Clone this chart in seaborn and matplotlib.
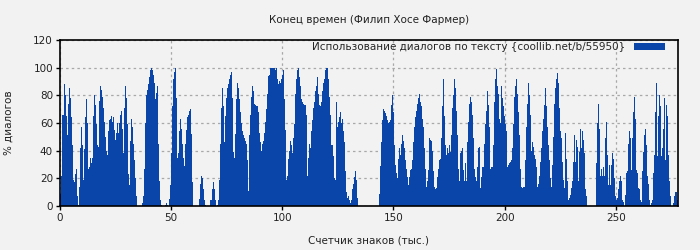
import numpy as np
import pandas as pd
import matplotlib
matplotlib.use("Agg")
import matplotlib.pyplot as plt
import seaborn as sns
from matplotlib.patches import Patch

title = "Конец времен (Филип Хосе Фармер)"
xlabel = "Счетчик знаков (тыс.)"
ylabel = "% диалогов"
legend_label = "Использование диалогов по тексту {coollib.net/b/55950}"
x_ticks = [0, 50, 100, 150, 200, 250]
y_ticks = [0, 20, 40, 60, 80, 100, 120]
x_max = 278

seg1 = [9, 22, 66, 66, 88, 80, 65, 51, 74, 85,
        78, 64, 44, 19, 17, 23, 27, 7, 1, 14,
        42, 57, 44, 19, 41, 64, 77, 60, 27, 28,
        35, 31, 35, 65, 80, 73, 59, 44, 43, 76,
        87, 84, 79, 71, 61, 50, 40, 37, 54, 62,
        63, 65, 61, 64, 55, 48, 53, 60, 53, 60,
        66, 69, 56, 38, 71, 87, 78, 59, 23, 15,
        47, 63, 57, 45, 33, 20, 7, 0, 0, 0,
        0, 0, 2, 7, 27, 60, 80, 84, 88, 93,
        98, 100, 98, 95, 89, 77, 82, 87, 45, 18,
        4, 1, 0, 0, 0]
seg2 = [1, 2, 1, 0, 5, 15, 38, 72, 92, 97,
        100, 78, 35, 38, 54, 63, 56, 45, 35, 29,
        45, 55, 64, 66, 69, 70, 52, 17, 0, 0,
        0, 0, 0, 0, 5, 16, 22, 20, 12, 4,
        1, 0, 0, 0, 0, 4, 4, 12, 17, 12,
        4, 0, 1, 4, 19, 45, 71, 85, 72, 46,
        65, 78, 85, 88, 92, 95, 97, 78, 39, 35,
        52, 77, 89, 85, 77, 68, 60, 54, 51, 49,
        47, 45, 33, 11, 51, 66, 79, 87, 83, 74,
        73, 72, 72, 68, 53, 46, 40, 45, 47, 53,
        61, 70, 81, 94, 95]
seg3 = [100, 100, 100, 100, 100, 98, 100, 92, 88, 90,
        89, 92, 95, 98, 77, 55, 19, 22, 34, 40,
        47, 44, 38, 49, 59, 81, 92, 98, 100, 93,
        87, 77, 75, 74, 73, 73, 66, 22, 35, 45,
        42, 54, 62, 71, 75, 83, 87, 93, 81, 73,
        72, 75, 83, 89, 92, 98, 100, 100, 92, 79,
        66, 44, 44, 36, 20, 19, 75, 57, 61, 64,
        68, 60, 63, 54, 46, 25, 10, 6, 7, 4,
        2, 4, 12, 16, 21, 25, 19, 6, 0, 0,
        0, 0, 0, 0, 0, 0, 0, 0, 0, 0,
        0, 0, 0, 0, 0]
seg4 = [0, 0, 0, 0, 9, 29, 46, 62, 70, 69,
        67, 65, 62, 60, 61, 62, 73, 80, 68, 44,
        30, 24, 20, 34, 42, 37, 45, 51, 47, 42,
        33, 27, 21, 15, 21, 26, 27, 33, 46, 57,
        64, 69, 74, 78, 81, 75, 72, 63, 57, 42,
        27, 14, 18, 26, 49, 48, 47, 40, 25, 14,
        12, 13, 21, 27, 33, 34, 49, 72, 92, 65,
        44, 37, 42, 38, 44, 39, 51, 71, 80, 92,
        85, 69, 51, 27, 18, 38, 40, 42, 26, 18,
        31, 18, 46, 61, 74, 79, 75, 66, 49, 27,
        21, 18, 28, 42, 43]
seg5 = [13, 21, 28, 28, 45, 59, 69, 83, 73, 57,
        27, 28, 28, 44, 75, 92, 99, 87, 81, 63,
        60, 87, 78, 72, 65, 59, 54, 28, 30, 31,
        32, 33, 42, 59, 79, 87, 92, 81, 68, 51,
        27, 14, 13, 14, 14, 33, 57, 74, 89, 80,
        66, 40, 46, 43, 37, 34, 28, 14, 16, 22,
        32, 42, 54, 63, 73, 85, 72, 57, 44, 33,
        20, 14, 30, 50, 74, 85, 92, 96, 89, 71,
        54, 49, 32, 19, 13, 53, 34, 18, 4, 6,
        8, 13, 18, 32, 51, 32, 48, 43, 18, 39,
        56, 42, 54, 48, 38]
seg6 = [12, 7, 0, 0, 0, 0, 0, 0, 0, 0,
        0, 31, 60, 74, 56, 22, 27, 22, 28, 22,
        49, 61, 37, 15, 30, 15, 30, 38, 34, 20,
        7, 4, 6, 12, 18, 22, 18, 4, 3, 0,
        8, 24, 25, 45, 54, 49, 26, 49, 68, 79,
        63, 26, 24, 13, 12, 4, 3, 25, 39, 51,
        56, 44, 22, 16, 4, 1, 2, 4, 24, 37,
        68, 89, 36, 65, 80, 72, 36, 42, 56, 78,
        33, 73, 65, 37, 18, 7, 0, 0, 2, 7,
        10, 10, 4]

values = seg1 + seg2 + seg3 + seg4 + seg5 + seg6
n = len(values)
step = x_max / n
centers = (np.arange(n) + 0.5) * step
df = pd.DataFrame({"pos": centers, "pct": values})

bg = "#f2f2f2"
bar_color = "#0a46aa"
txt = "#222222"
fs = 7.5

sns.set_theme(style="white")
plt.rcParams["font.family"] = ["DejaVu Sans"]

fig = plt.figure(figsize=(7, 2.5), dpi=100, facecolor=bg)
ax = fig.add_axes([60 / 700, 44 / 250, 618 / 700, 166 / 250])
ax.set_facecolor(bg)

sns.histplot(data=df, x="pos", weights="pct", bins=n, binrange=(0, x_max),
             ax=ax, color=bar_color, alpha=1, linewidth=0,
             element="bars", fill=True)

ax.set_xlim(0, x_max)
ax.set_ylim(0, 120)
ax.set_xticks(x_ticks)
ax.set_yticks(y_ticks)
ax.tick_params(axis="both", labelsize=fs, length=3, width=1, color="black",
               labelcolor=txt, direction="out", bottom=True, left=True, pad=2)
ax.set_axisbelow(True)
ax.grid(True, color="#a8a8a8", linestyle=(0, (2, 2.5)), linewidth=0.9)
for s in ax.spines.values():
    s.set_color("black")
    s.set_linewidth(1.2)
    s.set_visible(True)

ax.set_title(title, fontsize=fs, color=txt, pad=12)
ax.set_xlabel(xlabel, fontsize=fs, color=txt, labelpad=9)
ax.set_ylabel(ylabel, fontsize=fs, color=txt, labelpad=14)

handle = Patch(facecolor=bar_color, edgecolor="none")
ax.legend([handle], [legend_label], loc="upper right", frameon=False,
          fontsize=fs, markerfirst=False, handlelength=3.0, handleheight=0.7,
          borderaxespad=0, bbox_to_anchor=(0.9854, 1.012), handletextpad=0.8)

fig.savefig("out.png", dpi=100, facecolor=bg)
